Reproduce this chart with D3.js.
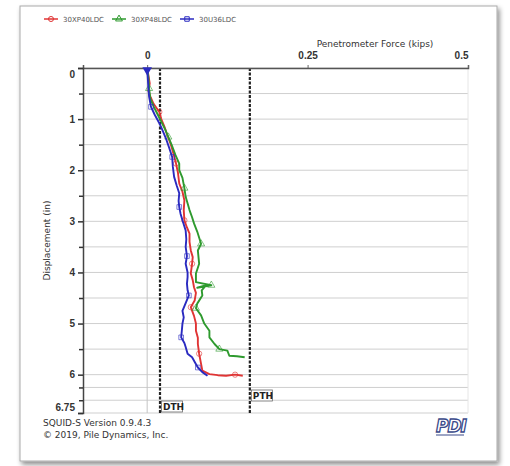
<!DOCTYPE html>
<html><head><meta charset="utf-8">
<script src="https://cdn.jsdelivr.net/npm/d3@7"></script>
<style>body{margin:0;background:#fff;} svg{display:block;font-family:Tahoma,"DejaVu Sans",sans-serif;}</style>
</head><body>
<script>
// ---- data ----
const seriesNames = ["30XP40LDC", "30XP48LDC", "30U36LDC"];
const seriesColors = ["#e03434", "#2e9a2e", "#2a2ac0"];
const redForce = [0,0.002,0.004,0.002,0.005,0.010,0.019,0.022,0.027,0.031,0.037,0.041,0.045,0.048,0.050,0.055,0.058,0.057,0.058,0.062,0.066,0.066,0.068,0.071,0.070,0.068,0.071,0.073,0.076,0.074,0.068,0.073,0.076,0.076,0.079,0.079,0.081,0.084,0.086,0.097,0.110,0.123,0.137,0.149];
const redDisp  = [0,0.15,0.30,0.45,0.56,0.70,0.86,1.00,1.15,1.30,1.50,1.68,1.87,2.05,2.26,2.42,2.59,2.78,2.98,3.12,3.24,3.40,3.57,3.70,3.83,4.02,4.15,4.29,4.40,4.55,4.68,4.85,5.00,5.14,5.28,5.40,5.59,5.79,5.92,5.99,6.01,6.02,6.00,6.02];
const greenForce = [0,0.002,0.003,0.005,0.010,0.016,0.022,0.028,0.033,0.038,0.044,0.050,0.050,0.055,0.058,0.060,0.066,0.070,0.073,0.078,0.084,0.079,0.080,0.081,0.076,0.076,0.100,0.078,0.092,0.085,0.086,0.078,0.076,0.084,0.089,0.097,0.097,0.105,0.1125,0.125,0.128,0.140,0.152];
const greenDisp  = [0,0.20,0.40,0.60,0.75,0.90,1.05,1.20,1.35,1.50,1.70,1.87,2.00,2.15,2.35,2.52,2.78,2.92,3.04,3.20,3.44,3.57,3.70,3.83,4.02,4.19,4.25,4.30,4.25,4.35,4.45,4.61,4.70,4.84,5.00,5.14,5.27,5.40,5.50,5.53,5.63,5.64,5.66];
const blueForce = [0,0.001,0.002,0.003,0.006,0.012,0.019,0.024,0.029,0.034,0.039,0.040,0.042,0.046,0.050,0.049,0.050,0.052,0.055,0.060,0.061,0.060,0.062,0.060,0.063,0.063,0.062,0.063,0.065,0.060,0.055,0.057,0.055,0.054,0.053,0.058,0.060,0.063,0.070,0.075,0.079,0.086,0.094];
const blueDisp  = [0,0.20,0.40,0.56,0.76,0.92,1.08,1.22,1.37,1.55,1.74,1.93,2.13,2.30,2.45,2.60,2.72,2.85,2.98,3.18,3.35,3.50,3.68,3.83,4.00,4.09,4.22,4.35,4.45,4.60,4.75,4.88,5.00,5.14,5.27,5.38,5.46,5.59,5.66,5.77,5.86,5.95,6.02];
const xTickValues = [0, 0.25, 0.5];
const xTickLabels = ["0", "0.25", "0.5"];
const yMajorTicks = [0,1,2,3,4,5,6,6.75];
const yMajorLabels = ["0","1","2","3","4","5","6","6.75"];
const yMinorTicks = [0.5,1.5,2.5,3.5,4.5,5.5,6.25,6.5];
const thresholds = [{name:"DTH", value:0.02}, {name:"PTH", value:0.16}];
const xTitle = "Penetrometer Force (kips)";
const yTitle = "Displacement (in)";
const footer1 = "SQUID-S Version 0.9.4.3";
const footer2 = "\u00A9 2019, Pile Dynamics, Inc.";

const W = 510, H = 466;
const svg = d3.select("body").append("svg").attr("width", W).attr("height", H);
const defs = svg.append("defs");
const f = defs.append("filter").attr("id","sh").attr("x","-5%").attr("y","-5%").attr("width","115%").attr("height","115%");
f.append("feDropShadow").attr("dx",2).attr("dy",3).attr("stdDeviation",2.5).attr("flood-color","#000").attr("flood-opacity",0.45);

svg.append("rect").attr("x",20).attr("y",6).attr("width",477).attr("height",455)
  .attr("fill","#fff").attr("stroke","#aaa").attr("stroke-width",1).attr("filter","url(#sh)");

const x = d3.scaleLinear().domain([-0.1, 0.5]).range([83, 468]);
const y = d3.scaleLinear().domain([0, 6.75]).range([68, 413]);

// grid
const allY = yMajorTicks.concat(yMinorTicks);
svg.append("g").selectAll("line").data(allY).join("line")
  .attr("x1", x(-0.1)).attr("x2", x(0.5)).attr("y1", d=>y(d)).attr("y2", d=>y(d))
  .attr("stroke","#cfcfcf").attr("stroke-width",1);
svg.append("line").attr("x1",x(0)).attr("x2",x(0)).attr("y1",y(0)).attr("y2",y(6.75))
  .attr("stroke","#c4c4c4").attr("stroke-width",1);
svg.append("line").attr("x1",x(0.5)).attr("x2",x(0.5)).attr("y1",y(0)).attr("y2",y(6.75))
  .attr("stroke","#e6e6e6").attr("stroke-width",1);

// threshold lines
thresholds.forEach((t,i)=>{
  svg.append("line").attr("x1",x(t.value)).attr("x2",x(t.value)).attr("y1",y(0)).attr("y2",y(6.75))
    .attr("stroke","#222").attr("stroke-width",2.2).attr("stroke-dasharray","3,1.5");
  const by = i===0 ? 401 : 390;
  svg.append("rect").attr("x",x(t.value)+1.5).attr("y",by).attr("width",21).attr("height",11)
    .attr("fill","#fff").attr("stroke","#666").attr("stroke-width",0.8);
  svg.append("text").attr("x",x(t.value)+3).attr("y",by+9).text(t.name)
    .attr("font-size",9).attr("font-weight","bold").attr("fill","#222");
});

// axes
const topAxis = d3.axisTop(x).tickValues(xTickValues).tickSize(3).tickFormat((d,i)=>xTickLabels[i]);
const gx = svg.append("g").attr("transform",`translate(0,${y(0)})`).call(topAxis);
gx.select(".domain").attr("stroke","#555").attr("stroke-width",1.5);
gx.selectAll(".tick line").attr("stroke","#666");
gx.selectAll("text").attr("font-size",10).attr("font-weight","bold").attr("fill","#333").attr("dy","-0.3em")
  .attr("text-anchor",(d,i)=> i===xTickLabels.length-1 ? "end":"middle");

const leftAxis = d3.axisLeft(y).tickValues(yMajorTicks).tickSize(5).tickFormat((d,i)=>yMajorLabels[i]);
const gy = svg.append("g").attr("transform",`translate(${x(-0.1)},0)`).call(leftAxis);
gy.select(".domain").attr("stroke","#444").attr("stroke-width",1.5);
gy.selectAll(".tick line").attr("stroke","#333").attr("stroke-width",1.5);
gy.selectAll("text").attr("font-size",10).attr("font-weight","bold").attr("fill","#333")
  .attr("dy",(d)=> d===0 ? "0.9em" : d===6.75 ? "-0.3em" : "0.32em");
const gyMinor = d3.axisLeft(y).tickValues(yMinorTicks).tickSize(4).tickFormat("");
const gm = svg.append("g").attr("transform",`translate(${x(-0.1)},0)`).call(gyMinor);
gm.select(".domain").remove();
gm.selectAll(".tick line").attr("stroke","#333").attr("stroke-width",1.5);

// titles
svg.append("text").attr("x",375).attr("y",47).attr("text-anchor","middle").attr("font-size",9).attr("fill","#333").text(xTitle);
svg.append("text").attr("transform",`translate(50,${(y(0)+y(6.75))/2}) rotate(-90)`).attr("text-anchor","middle")
  .attr("font-size",9).attr("fill","#333").text(yTitle);

// series
const series = [
  {f:redForce, d:redDisp, shape:d3.symbolCircle},
  {f:greenForce, d:greenDisp, shape:d3.symbolTriangle},
  {f:blueForce, d:blueDisp, shape:d3.symbolSquare}
];
const line = d3.line().x(p=>x(p[0])).y(p=>y(p[1]));
series.forEach((s,k)=>{
  const pts = s.f.map((v,i)=>[v, s.d[i]]);
  svg.append("path").datum(pts).attr("d",line).attr("fill","none")
    .attr("stroke",seriesColors[k]).attr("stroke-width",1.9).attr("stroke-linejoin","round");
  svg.append("g").selectAll("path").data(pts.filter((p,i)=> i>0 && i%6===(k*2)%6)).join("path")
    .attr("transform",p=>`translate(${x(p[0])},${y(p[1])})`)
    .attr("d", d3.symbol().type(s.shape).size(22))
    .attr("fill","none").attr("stroke",seriesColors[k]).attr("stroke-opacity",0.6).attr("stroke-width",1);
});
// start marker
svg.append("path").attr("transform",`translate(${x(0)},${y(0)+2}) rotate(180)`)
  .attr("d", d3.symbol().type(d3.symbolTriangle).size(40)).attr("fill",seriesColors[2]);

// legend
const legX = [44, 112, 180];
seriesNames.forEach((n,k)=>{
  const g = svg.append("g");
  g.append("line").attr("x1",legX[k]).attr("x2",legX[k]+14).attr("y1",19).attr("y2",19)
    .attr("stroke",seriesColors[k]).attr("stroke-width",1.5);
  g.append("path").attr("transform",`translate(${legX[k]+7},19)`)
    .attr("d", d3.symbol().type(series[k].shape).size(20)).attr("fill","none").attr("stroke",seriesColors[k]);
  g.append("text").attr("x",legX[k]+19).attr("y",22).attr("font-size",7).attr("fill","#555").text(n);
});

// footer
svg.append("text").attr("x",43).attr("y",426).attr("font-size",9).attr("fill","#333").text(footer1);
svg.append("text").attr("x",43).attr("y",438).attr("font-size",9).attr("fill","#333").text(footer2);
const logo = svg.append("g");
logo.append("text").attr("x",451).attr("y",432).attr("text-anchor","middle").attr("font-size",17)
  .attr("font-style","italic").attr("font-weight","bold").attr("fill","#fff").attr("stroke","#3a4a8a")
  .attr("stroke-width",1.3).attr("letter-spacing",-1).text("PDI");
logo.append("line").attr("x1",436).attr("x2",464).attr("y1",435).attr("y2",435).attr("stroke","#3a4a8a").attr("stroke-width",1);
</script>
</body></html>
